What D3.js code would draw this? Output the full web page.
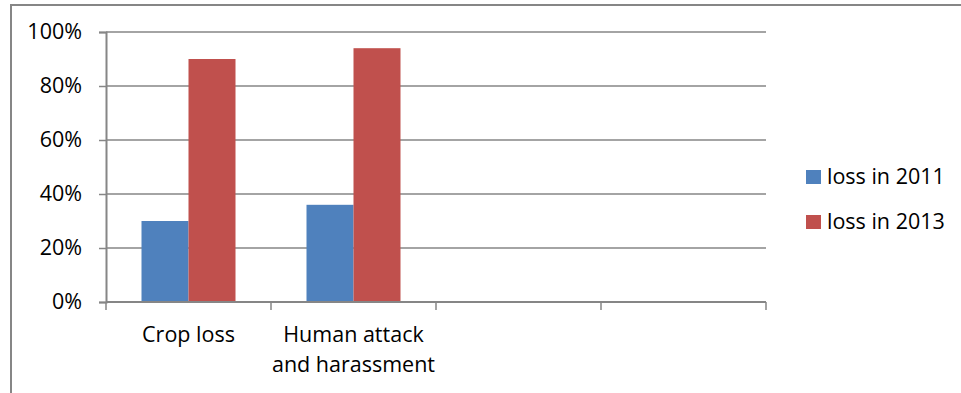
<!DOCTYPE html>
<html>
<head>
<meta charset="utf-8">
<script src="https://cdn.jsdelivr.net/npm/d3@7"></script>
<style>
  html, body { margin: 0; padding: 0; background: #fff; }
  svg text { font-family: "Open Sans", sans-serif; fill: #000; }
</style>
</head>
<body>
<svg id="chart" width="961" height="393"></svg>
<script>
const categories = ["Crop loss", "Human attack\nand harassment", "", " "];
const seriesNames = ["loss in 2011", "loss in 2013"];
const loss2011 = [0.30, 0.36, null, null];
const loss2013 = [0.90, 0.94, null, null];
const yTicks = [0, 0.2, 0.4, 0.6, 0.8, 1.0];
const colors = ["#4F81BD", "#C0504D"];

const svg = d3.select("#chart");
const fontSize = 21.5;
const gridColor = "#868686";

// outer chart frame (extends beyond the visible area at right/bottom)
svg.append("rect")
  .attr("x", 11).attr("y", 5)
  .attr("width", 1000).attr("height", 500)
  .attr("fill", "none").attr("stroke", gridColor).attr("stroke-width", 2);

const m = { left: 106, right: 766, top: 32, bottom: 302 };

const x = d3.scaleBand().domain(categories).range([m.left, m.right]).paddingInner(0).paddingOuter(0);
const y = d3.scaleLinear().domain([0, 1]).range([m.bottom, m.top]);

const groupFrac = 94 / 165;
const xs = d3.scaleBand().domain(seriesNames)
  .range([x.bandwidth() * (1 - groupFrac) / 2, x.bandwidth() * (1 + groupFrac) / 2])
  .padding(0);

// gridlines
svg.append("g").selectAll("line").data(yTicks.filter(d => d > 0)).join("line")
  .attr("x1", m.left).attr("x2", m.right)
  .attr("y1", d => y(d)).attr("y2", d => y(d))
  .attr("stroke", gridColor).attr("stroke-width", 1.5);

// bars
const series = [loss2011, loss2013];
series.forEach((vals, si) => {
  svg.append("g").selectAll("rect")
    .data(categories.map((c, i) => ({ c, v: vals[i] })).filter(d => d.v != null))
    .join("rect")
    .attr("x", d => x(d.c) + xs(seriesNames[si]))
    .attr("width", xs.bandwidth())
    .attr("y", d => y(d.v))
    .attr("height", d => y(0) - y(d.v))
    .attr("fill", colors[si]);
});

// y axis
const yAxis = d3.axisLeft(y).tickValues(yTicks).tickFormat(d3.format(".0%")).tickSize(7).tickPadding(17);
const gy = svg.append("g").attr("transform", `translate(${m.left},0)`).call(yAxis);
gy.select(".domain").attr("stroke", gridColor).attr("stroke-width", 2);
gy.selectAll(".tick line").attr("stroke", gridColor).attr("stroke-width", 1.5);
gy.selectAll(".tick text").attr("font-size", fontSize).attr("font-family", "Open Sans").attr("fill", "#000");

// x axis
const tickXs = categories.map(c => x(c)).concat([m.right]);
svg.append("line").attr("x1", m.left).attr("x2", m.right).attr("y1", y(0)).attr("y2", y(0))
  .attr("stroke", gridColor).attr("stroke-width", 2);
svg.append("g").selectAll("line").data(tickXs).join("line")
  .attr("x1", d => d).attr("x2", d => d).attr("y1", y(0)).attr("y2", y(0) + 8)
  .attr("stroke", gridColor).attr("stroke-width", 1.5);

const xl = svg.append("g").selectAll("text").data(categories).join("text")
  .attr("text-anchor", "middle")
  .attr("font-size", fontSize)
  .attr("transform", d => `translate(${x(d) + x.bandwidth() / 2},342)`);
xl.each(function(d) {
  const lines = d.split("\n");
  d3.select(this).selectAll("tspan").data(lines).join("tspan")
    .attr("x", 0).attr("dy", (l, i) => i === 0 ? 0 : 30).text(l => l);
});

// legend
const lg = svg.append("g").attr("transform", "translate(806,170)");
seriesNames.forEach((s, i) => {
  const g = lg.append("g").attr("transform", `translate(0,${i * 45})`);
  g.append("rect").attr("width", 15).attr("height", 14).attr("fill", colors[i]);
  g.append("text").attr("x", 21).attr("y", 14).attr("font-size", fontSize).text(s);
});
</script>
</body>
</html>
